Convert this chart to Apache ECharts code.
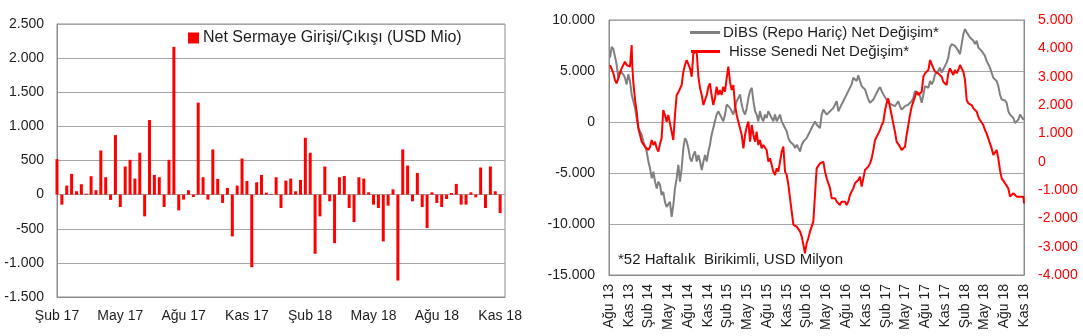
<!DOCTYPE html>
<html>
<head>
<meta charset="utf-8">
<script src="https://cdn.jsdelivr.net/npm/echarts@6/dist/echarts.min.js"></script>
<style>
  html, body { margin: 0; padding: 0; background: #ffffff; }
  #chart { width: 1083px; height: 336px; }
</style>
</head>
<body>
<div id="chart"></div>
<script>
// Weekly net capital flow (USD Mio), first week of Feb 2017 onwards
const flowTicks = ['Şub 17', 'May 17', 'Ağu 17', 'Kas 17', 'Şub 18', 'May 18', 'Ağu 18', 'Kas 18'];
const weeklyFlows = [
  520, -147, 132, 304, 49, 152, 15, 270, 64, 647, 255, -78, 872, -181, 412, 510,
  235, 613, -318, 1093, 289, 255, -181, 510, 2166, -230, -73, 64, -35, 1348, 255, -73,
  662, 230, -122, 98, -612, 132, 529, 201, -1063, 181, 289, 29, 10, 255, -196, 206,
  235, 49, 216, 833, 613, -867, -318, 412, -98, -711, 255, 274, -196, -402, 255, 235,
  34, -147, -196, -686, -162, 78, -1259, 662, 426, -98, 318, -181, -490, 34, -122, -181,
  -64, 24, 157, -147, -147, 34, -39, 397, -196, 412, 49, -270
];

// 52-week cumulative flows, x = weeks since early Aug 2013
const quarterTicks = ['Ağu 13', 'Kas 13', 'Şub 14', 'May 14', 'Ağu 14', 'Kas 14', 'Şub 15', 'May 15',
  'Ağu 15', 'Kas 15', 'Şub 16', 'May 16', 'Ağu 16', 'Kas 16', 'Şub 17', 'May 17', 'Ağu 17', 'Kas 17',
  'Şub 18', 'May 18', 'Ağu 18', 'Kas 18'];

const dibs = [
  [0.7,6317],[1.8,7370],[2.9,7139],[3.9,7304],[5.0,5659],[6.1,4343],[7.2,5001],[8.3,4836],[9.4,4672],[10.5,4343],
  [11.6,3685],[12.7,4672],[13.8,4014],[14.9,2698],[16.0,2040],[17.1,1382],[18.2,395],[19.3,-592],[20.4,-921],[21.5,-1250],
  [22.6,-1908],[23.7,-2402],[24.8,-2895],[25.9,-3882],[27.0,-4540],[28.1,-5527],[29.2,-4869],[30.3,-5856],[31.4,-6514],[32.5,-5856],
  [33.6,-6185],[34.6,-7172],[35.7,-6843],[36.8,-7830],[37.9,-8324],[39.0,-8488],[40.1,-7830],[41.2,-9311],[42.3,-8159],[43.4,-6514],
  [44.5,-5527],[45.6,-4211],[46.7,-5856],[47.8,-4540],[48.9,-2566],[50.0,-1579],[51.1,-1908],[52.2,-2566],[53.3,-3553],[54.4,-3882],
  [55.5,-3224],[56.6,-2895],[57.7,-3882],[58.8,-3224],[59.9,-3882],[61.0,-4705],[62.1,-3882],[63.2,-3224],[64.3,-3882],[65.4,-2895],
  [66.4,-2237],[67.5,-1250],[68.6,-592],[69.7,66],[70.8,724],[71.9,1053],[73.0,724],[74.1,395],[75.2,66],[76.3,724],
  [77.4,1711],[78.5,1875],[79.6,1382],[80.7,1053],[81.8,724],[82.9,1382],[84.0,2040],[85.1,2369],[86.2,2698],[87.3,1711],
  [88.4,1053],[89.5,724],[90.6,1382],[91.7,2369],[92.8,3027],[93.9,3356],[95.0,2040],[96.1,1053],[97.1,724],[98.2,66],
  [99.3,1053],[100.4,395],[101.5,66],[102.6,724],[103.7,395],[104.8,1053],[105.9,724],[107.0,395],[108.1,66],[109.2,724],
  [110.3,66],[111.4,395],[112.5,724],[113.6,66],[114.7,-263],[115.8,-592],[116.9,-921],[118.0,-1579],[119.1,-1908],[120.2,-1908],
  [121.3,-2237],[122.4,-2566],[123.5,-2237],[124.6,-2566],[125.7,-2895],[126.8,-2237],[127.9,-1908],[128.9,-2073],[130.0,-1579],[131.1,-1250],
  [132.2,-921],[133.3,-592],[134.4,-263],[135.5,66],[136.6,-263],[137.7,-263],[138.8,-592],[139.9,724],[141.0,1217],[142.1,1053],
  [143.2,724],[144.3,888],[145.4,1053],[146.5,888],[147.6,1382],[148.7,1711],[149.8,2040],[150.9,1053],[151.9,1382],[153.0,1711],
  [154.1,2040],[155.2,2369],[156.3,2533],[157.4,3027],[158.5,3356],[159.6,3685],[160.7,4343],[161.8,4507],[162.9,4014],[164.0,4573],
  [165.1,4014],[166.2,3520],[167.3,3685],[168.4,3191],[169.5,2698],[170.6,2204],[171.7,1875],[172.8,1711],[173.9,2204],[175.0,2533],
  [176.1,2862],[177.2,3191],[178.3,3422],[179.4,3027],[180.5,2698],[181.6,2533],[182.6,2204],[183.7,1875],[184.8,2040],[185.9,1711],
  [187.0,1875],[188.1,1546],[189.2,1711],[190.3,2040],[191.4,1546],[192.5,1217],[193.6,1053],[194.7,1546],[195.8,1382],[196.9,1711],
  [198.0,1875],[199.1,2040],[200.2,2369],[201.3,3027],[202.4,3191],[203.5,2862],[204.6,2533],[205.7,1875],[206.8,2698],[207.9,3520],
  [209.0,3685],[210.1,3356],[211.2,4014],[212.3,3685],[213.4,4014],[214.5,4672],[215.5,4507],[216.6,5001],[217.7,5330],[218.8,4836],
  [219.9,5165],[221.0,5494],[222.1,5823],[223.2,6317],[224.3,7304],[225.4,7633],[226.5,7797],[227.6,7468],[228.7,7304],[229.8,6975],
  [230.9,6646],[232.0,7633],[233.1,8620],[234.2,9113],[235.3,8784],[236.4,8620],[237.5,8291],[238.6,8126],[239.7,7962],[240.8,7633],
  [241.9,7962],[242.9,7304],[244.0,7139],[245.1,6975],[246.2,7139],[247.3,6481],[248.4,5988],[249.5,5659],[250.6,5330],[251.7,4836],
  [252.8,4343],[253.9,4507],[255.0,4014],[256.1,3520],[257.2,2698],[258.3,2204],[259.4,2040],[260.5,2106],[261.6,1875],[262.7,1053],
  [263.8,724],[264.9,888],[266.0,395],[267.1,-99],[268.2,-197],[269.3,230],[270.4,724],[271.5,559],[272.6,230],[273.0,400]
];

const hisse = [
  [0.7,3410],[1.8,3352],[2.9,3116],[3.9,2881],[5.0,2764],[6.1,2822],[7.2,3116],[8.3,3293],[9.4,3410],[10.5,3528],
  [11.6,3410],[12.7,3469],[13.8,3352],[14.9,4116],[15.4,3300],[16.0,2800],[17.1,2200],[18.2,1764],[19.3,1176],[20.4,941],
  [21.5,706],[22.6,647],[23.7,529],[24.8,588],[25.9,412],[27.0,529],[28.1,764],[29.2,588],[30.3,706],[31.4,470],
  [32.5,353],[33.6,647],[34.6,823],[35.7,1823],[36.8,1646],[37.9,1411],[39.0,1646],[40.1,1352],[41.2,1294],[42.3,764],
  [43.4,1646],[44.5,2352],[45.6,2446],[46.7,2470],[47.8,2705],[48.9,3175],[50.0,3410],[51.1,3587],[52.2,3646],[53.3,3293],
  [54.4,2999],[55.5,3822],[56.6,3857],[57.7,3881],[58.8,2999],[59.9,2587],[61.0,2352],[62.1,1999],[63.2,1940],[64.3,2352],
  [65.4,2646],[66.4,2764],[67.5,2352],[68.6,1999],[69.7,2234],[70.8,2646],[71.9,2352],[73.0,2528],[74.1,2352],[75.2,2646],
  [76.3,2470],[77.4,2940],[78.5,3352],[79.6,2822],[80.7,2528],[81.8,2705],[82.9,1999],[84.0,1646],[85.1,1411],[86.2,1411],
  [87.3,941],[88.4,470],[89.5,941],[90.6,1235],[91.7,1411],[92.8,706],[93.9,1294],[95.0,941],[96.1,706],[97.1,1058],
  [98.2,588],[99.3,764],[100.4,470],[101.5,588],[102.6,588],[103.7,412],[104.8,0],[105.9,118],[107.0,-118],[108.1,-353],
  [109.2,-470],[110.3,-235],[111.4,-353],[112.5,0],[113.6,353],[114.7,529],[115.8,-353],[116.9,-470],[118.0,-823],[119.1,-1294],
  [120.2,-1764],[121.3,-2234],[122.4,-2234],[123.5,-2293],[124.6,-2352],[125.7,-2470],[126.8,-2646],[127.9,-2940],[128.9,-3234],[130.0,-2881],
  [131.1,-2705],[132.2,-2470],[133.3,-2293],[134.4,-2117],[135.5,-1176],[136.6,-235],[137.7,-176],[138.8,-59],[139.9,-118],[141.0,0],
  [142.1,-353],[143.2,-588],[144.3,-764],[145.4,-941],[146.5,-1294],[147.6,-1352],[148.7,-1294],[149.8,-1411],[150.9,-1470],[151.9,-1529],
  [153.0,-1411],[154.1,-1352],[155.2,-1411],[156.3,-1529],[157.4,-1411],[158.5,-1176],[159.6,-1058],[160.7,-941],[161.8,-764],[162.9,-706],
  [164.0,-647],[165.1,-529],[166.2,-882],[167.3,-588],[168.4,-294],[169.5,-235],[170.6,-176],[171.7,-59],[172.8,118],[173.9,412],
  [175.0,764],[176.1,823],[177.2,1000],[178.3,1117],[179.4,1294],[180.5,1411],[181.6,1823],[182.6,2058],[183.7,2234],[184.8,1940],
  [185.9,1646],[187.0,1352],[188.1,1058],[189.2,706],[190.3,647],[191.4,529],[192.5,412],[193.6,353],[194.7,529],[195.8,941],
  [196.9,1294],[198.0,1646],[199.1,1940],[200.2,2117],[201.3,2293],[202.4,2470],[203.5,2352],[204.6,2411],[205.7,2470],[206.8,2999],
  [207.9,3116],[209.0,3058],[210.1,3234],[211.2,3587],[212.3,3610],[213.4,3293],[214.5,3175],[215.5,3234],[216.6,3116],[217.7,3175],
  [218.8,2999],[219.9,2822],[221.0,2881],[222.1,2705],[223.2,3116],[224.3,3293],[225.4,3175],[226.5,3058],[227.6,3234],[228.7,3116],
  [229.8,3234],[230.9,3410],[232.0,3469],[233.1,3175],[234.2,2881],[235.3,2176],[236.4,2058],[237.5,2117],[238.6,1999],[239.7,1882],
  [240.8,1940],[241.9,1764],[242.9,1588],[244.0,1470],[245.1,1529],[246.2,1294],[247.3,1117],[248.4,1000],[249.5,823],[250.6,647],
  [251.7,470],[252.8,235],[253.9,176],[255.0,412],[256.1,118],[257.2,-294],[258.3,-588],[259.4,-647],[260.5,-764],[261.6,-706],
  [262.7,-941],[263.8,-1235],[264.9,-1176],[266.0,-1117],[267.1,-1176],[268.2,-1235],[269.3,-1176],[270.4,-1235],[271.5,-1270],[272.6,-1235],
  [273.0,-1470]
];

// Week start dates for the flow bars (one trailing empty slot closes the axis)
const flowWeeks = [];
for (let i = 0; i <= weeklyFlows.length; i++) {
  const d = new Date(Date.UTC(2017, 1, 3 + 7 * i));
  flowWeeks.push(d.toISOString().slice(0, 10));
}

const FONT = '"Liberation Sans", Arial, sans-serif';
const TEXT = '#1e1e1e';
const GRID_LINE = '#a6a6a6';
const FRAME = '#8c8c8c';

function trNum(v) {
  const s = Math.abs(Math.round(v)).toString().replace(/\B(?=(\d{3})+(?!\d))/g, '.');
  return (v < 0 ? '-' : '') + s;
}

const chart = echarts.init(document.getElementById('chart'), null, { renderer: 'canvas' });

chart.setOption({
  animation: false,
  backgroundColor: '#ffffff',
  textStyle: { fontFamily: FONT },
  grid: [
    { left: 57, top: 24, width: 448, height: 273, show: true, borderColor: FRAME, borderWidth: 1, backgroundColor: 'transparent' },
    { left: 609, top: 20, width: 415, height: 255, show: true, borderColor: FRAME, borderWidth: 1, backgroundColor: 'transparent' }
  ],
  legend: [
    {
      data: ['Net Sermaye Girişi/Çıkışı (USD Mio)'],
      left: 188, top: 30, padding: 0,
      itemWidth: 11, itemHeight: 11, icon: 'rect',
      textStyle: { fontSize: 16, color: TEXT, fontFamily: FONT, padding: [0, 0, 0, -1] }
    },
    {
      data: ['DİBS (Repo Hariç) Net Değişim*'],
      left: 690, top: 25, padding: 0,
      itemWidth: 30, itemHeight: 3, icon: 'rect',
      textStyle: { fontSize: 15, color: TEXT, fontFamily: FONT, padding: [0, 0, 0, -2] }
    },
    {
      data: ['Hisse Senedi Net Değişim*'],
      left: 691, top: 44, padding: 0,
      itemWidth: 29, itemHeight: 3, icon: 'rect',
      textStyle: { fontSize: 15, color: TEXT, fontFamily: FONT, padding: [0, 0, 0, 4] }
    }
  ],
  graphic: [
    {
      type: 'text', left: 618, top: 252,
      style: { text: '*52 Haftalık  Birikimli, USD Milyon', fill: TEXT, font: '15px ' + FONT }
    }
  ],
  xAxis: [
    {
      gridIndex: 0, type: 'category', data: flowWeeks, boundaryGap: false,
      axisLine: { show: true, onZero: false, lineStyle: { color: FRAME } },
      axisTick: { show: false },
      splitLine: { show: false },
      axisLabel: {
        interval: 12, margin: 12, fontSize: 14, color: TEXT, fontFamily: FONT,
        formatter: (val, idx) => flowTicks[Math.round(idx / 13)] || ''
      }
    },
    {
      gridIndex: 1, type: 'value', min: 0, max: 273, interval: 13,
      axisLine: { show: true, onZero: false, lineStyle: { color: FRAME } },
      axisTick: { show: false },
      splitLine: { show: false },
      axisLabel: {
        rotate: 90, margin: 9, fontSize: 14, color: TEXT, fontFamily: FONT,
        showMinLabel: true, showMaxLabel: true,
        formatter: v => quarterTicks[Math.round(v / 13)] || ''
      }
    }
  ],
  yAxis: [
    {
      gridIndex: 0, type: 'value', min: -1500, max: 2500, interval: 500,
      axisLine: { show: true, lineStyle: { color: FRAME } },
      axisTick: { show: false },
      splitLine: { show: true, lineStyle: { color: GRID_LINE, width: 1 } },
      axisLabel: { margin: 13, fontSize: 14, color: TEXT, fontFamily: FONT, formatter: trNum }
    },
    {
      gridIndex: 1, type: 'value', min: -15000, max: 10000, interval: 5000,
      axisLine: { show: true, lineStyle: { color: FRAME } },
      axisTick: { show: false },
      splitLine: { show: true, lineStyle: { color: GRID_LINE, width: 1 } },
      axisLabel: { margin: 14, fontSize: 14, color: TEXT, fontFamily: FONT, formatter: trNum }
    },
    {
      gridIndex: 1, type: 'value', position: 'right', min: -4000, max: 5000, interval: 1000,
      axisLine: { show: true, lineStyle: { color: FRAME } },
      axisTick: { show: false },
      splitLine: { show: false },
      axisLabel: { margin: 14, fontSize: 14, color: '#ff0000', fontFamily: FONT, formatter: trNum }
    }
  ],
  series: [
    {
      name: 'Net Sermaye Girişi/Çıkışı (USD Mio)',
      type: 'bar', xAxisIndex: 0, yAxisIndex: 0,
      data: weeklyFlows, barWidth: 3,
      itemStyle: { color: '#ff0000' }
    },
    {
      name: 'DİBS (Repo Hariç) Net Değişim*',
      type: 'line', xAxisIndex: 1, yAxisIndex: 1,
      data: dibs, showSymbol: false, symbol: 'none',
      lineStyle: { color: '#808080', width: 2 }, itemStyle: { color: '#808080' }
    },
    {
      name: 'Hisse Senedi Net Değişim*',
      type: 'line', xAxisIndex: 1, yAxisIndex: 2,
      data: hisse, showSymbol: false, symbol: 'none',
      lineStyle: { color: '#ff0000', width: 2 }, itemStyle: { color: '#ff0000' }
    }
  ]
});
</script>
</body>
</html>
